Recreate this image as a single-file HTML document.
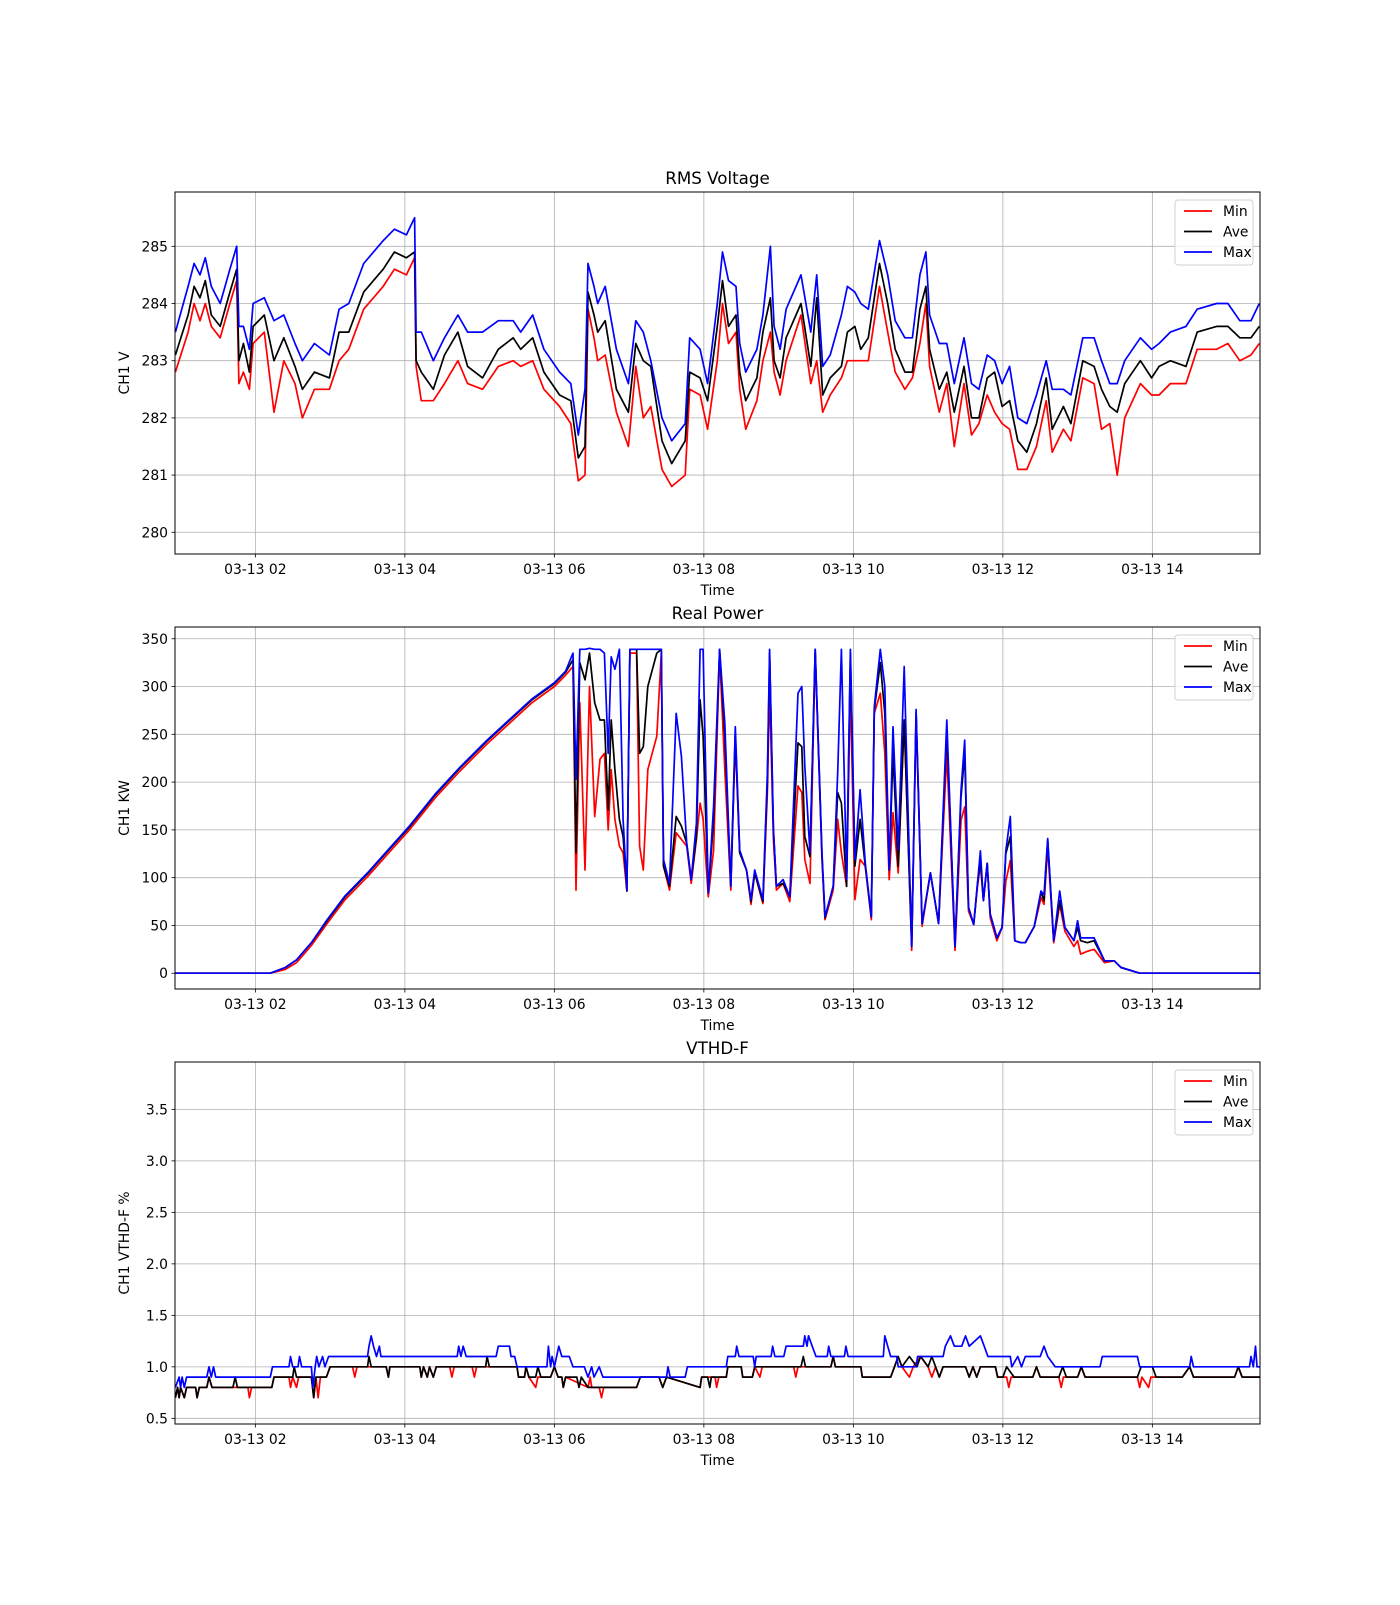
<!DOCTYPE html>
<html><head><meta charset="utf-8"><style>
body{margin:0;background:#fff}
svg text{font-family:"DejaVu Sans","Liberation Sans",sans-serif;fill:#000}
</style></head><body>
<svg id="fig" xmlns="http://www.w3.org/2000/svg" width="1400" height="1600" viewBox="0 0 1400 1600"></svg>
<script>
// ---------- shared axis data ----------
const xTickHours = [2,4,6,8,10,12,14];
const xTickLabels = ["03-13 02","03-13 04","03-13 06","03-13 08","03-13 10","03-13 12","03-13 14"];
const xDomain = [0.925, 15.44];

// ---------- RMS Voltage ----------
const voltT = [0.93,1.1,1.18,1.26,1.33,1.41,1.53,1.66,1.75,1.78,1.84,1.92,1.97,2.12,2.25,2.38,2.53,2.63,2.79,2.99,3.12,3.25,3.45,3.71,3.86,4.02,4.13,4.15,4.22,4.38,4.53,4.71,4.84,5.04,5.25,5.45,5.55,5.71,5.86,6.07,6.22,6.32,6.41,6.45,6.53,6.58,6.68,6.83,6.99,7.09,7.19,7.29,7.44,7.57,7.75,7.81,7.95,8.05,8.18,8.25,8.33,8.43,8.48,8.56,8.71,8.79,8.89,8.94,9.02,9.1,9.3,9.43,9.51,9.59,9.69,9.84,9.92,10.02,10.1,10.2,10.35,10.46,10.56,10.69,10.79,10.89,10.97,11.02,11.15,11.25,11.35,11.48,11.58,11.68,11.79,11.89,11.99,12.09,12.2,12.32,12.45,12.58,12.66,12.81,12.91,13.07,13.22,13.32,13.43,13.53,13.63,13.84,13.99,14.09,14.24,14.45,14.6,14.86,15.01,15.17,15.32,15.43];
const voltAve = [283.1,283.8,284.3,284.1,284.4,283.8,283.6,284.2,284.6,283.0,283.3,282.8,283.6,283.8,283.0,283.4,282.9,282.5,282.8,282.7,283.5,283.5,284.2,284.6,284.9,284.8,284.9,283.0,282.8,282.5,283.1,283.5,282.9,282.7,283.2,283.4,283.2,283.4,282.8,282.4,282.3,281.3,281.5,284.2,283.8,283.5,283.7,282.5,282.1,283.3,283.0,282.9,281.6,281.2,281.6,282.8,282.7,282.3,283.6,284.4,283.6,283.8,282.8,282.3,282.7,283.5,284.1,283.0,282.7,283.4,284.0,282.9,284.1,282.4,282.7,282.9,283.5,283.6,283.2,283.4,284.7,284.0,283.2,282.8,282.8,283.9,284.3,283.2,282.5,282.8,282.1,282.9,282.0,282.0,282.7,282.8,282.2,282.3,281.6,281.4,281.9,282.7,281.8,282.2,281.9,283.0,282.9,282.5,282.2,282.1,282.6,283.0,282.7,282.9,283.0,282.9,283.5,283.6,283.6,283.4,283.4,283.6];
const voltMax = [283.5,284.3,284.7,284.5,284.8,284.3,284.0,284.6,285.0,283.6,283.6,283.2,284.0,284.1,283.7,283.8,283.3,283.0,283.3,283.1,283.9,284.0,284.7,285.1,285.3,285.2,285.5,283.5,283.5,283.0,283.4,283.8,283.5,283.5,283.7,283.7,283.5,283.8,283.2,282.8,282.6,281.7,282.5,284.7,284.3,284.0,284.3,283.2,282.6,283.7,283.5,283.0,282.0,281.6,281.9,283.4,283.2,282.6,284.0,284.9,284.4,284.3,283.3,282.8,283.2,283.8,285.0,283.6,283.2,283.9,284.5,283.5,284.5,282.9,283.1,283.8,284.3,284.2,284.0,283.9,285.1,284.5,283.7,283.4,283.4,284.5,284.9,283.8,283.3,283.3,282.6,283.4,282.6,282.5,283.1,283.0,282.6,282.9,282.0,281.9,282.4,283.0,282.5,282.5,282.4,283.4,283.4,283.0,282.6,282.6,283.0,283.4,283.2,283.3,283.5,283.6,283.9,284.0,284.0,283.7,283.7,284.0];
const voltMin = [282.8,283.5,284.0,283.7,284.0,283.6,283.4,284.0,284.4,282.6,282.8,282.5,283.3,283.5,282.1,283.0,282.6,282.0,282.5,282.5,283.0,283.2,283.9,284.3,284.6,284.5,284.8,282.9,282.3,282.3,282.6,283.0,282.6,282.5,282.9,283.0,282.9,283.0,282.5,282.2,281.9,280.9,281.0,283.9,283.4,283.0,283.1,282.1,281.5,282.9,282.0,282.2,281.1,280.8,281.0,282.5,282.4,281.8,283.0,284.0,283.3,283.5,282.5,281.8,282.3,283.0,283.5,282.8,282.4,283.0,283.8,282.6,283.0,282.1,282.4,282.7,283.0,283.0,283.0,283.0,284.3,283.5,282.8,282.5,282.7,283.3,284.0,282.9,282.1,282.6,281.5,282.6,281.7,281.9,282.4,282.1,281.9,281.8,281.1,281.1,281.5,282.3,281.4,281.8,281.6,282.7,282.6,281.8,281.9,281.0,282.0,282.6,282.4,282.4,282.6,282.6,283.2,283.2,283.3,283.0,283.1,283.3];
const voltTicks = [280,281,282,283,284,285];

// ---------- Real Power ----------
const powT = [0.93,2.2,2.4,2.55,2.75,2.96,3.2,3.5,3.75,4.05,4.4,4.73,5.1,5.42,5.7,6.0,6.15,6.25,6.29,6.34,6.41,6.47,6.54,6.61,6.67,6.72,6.76,6.81,6.87,6.92,6.97,7.01,7.10,7.14,7.19,7.25,7.37,7.43,7.46,7.54,7.63,7.70,7.77,7.83,7.90,7.95,7.99,8.06,8.13,8.21,8.28,8.36,8.42,8.48,8.57,8.63,8.68,8.79,8.85,8.88,8.93,8.97,9.06,9.15,9.26,9.31,9.35,9.42,9.49,9.58,9.62,9.73,9.79,9.84,9.91,9.96,10.02,10.09,10.16,10.24,10.28,10.36,10.42,10.48,10.53,10.60,10.68,10.78,10.84,10.92,11.03,11.14,11.25,11.36,11.44,11.49,11.54,11.61,11.66,11.70,11.74,11.79,11.83,11.92,11.99,12.04,12.10,12.16,12.24,12.30,12.42,12.51,12.55,12.60,12.68,12.76,12.83,12.95,13.0,13.04,13.13,13.22,13.36,13.49,13.58,13.83,15.44];
const powAve = [0,0,6,14,32,55,80,104,126,152,186,214,243,266,286,303,315,328,126,325,307,335,283,265,265,171,265,213,161,143,86,339,339,230,237,300,335,339,112,91,164,154,136,98,143,286,248,84,161,339,248,91,251,126,108,75,105,75,200,335,150,91,94,80,241,237,143,122,339,122,58,91,189,178,91,335,112,161,112,59,276,325,272,108,230,112,265,28,272,52,105,52,255,28,184,230,69,51,93,118,76,115,62,37,48,125,143,34,32,32,49,85,76,139,34,76,48,34,48,34,32,34,13,13,6,0,0];
const powMax = [0,0,6,14,32,56,81,105,127,153,187,215,244,267,287,304,316,335,203,339,339,340,339,339,335,230,331,318,339,161,87,339,339,339,339,339,339,339,119,94,272,227,136,98,157,339,339,84,175,339,262,91,258,129,108,77,108,77,210,339,152,91,98,80,293,300,217,126,339,126,59,91,210,339,98,339,119,192,115,59,279,339,300,108,258,129,321,28,276,52,105,52,265,28,191,244,69,51,93,128,76,115,62,37,48,128,164,34,32,32,49,86,82,141,34,86,48,34,55,37,37,37,13,13,6,0,0];
const powMin = [0,0,4,11,29,52,77,101,123,149,183,211,240,263,283,300,312,321,87,283,108,300,164,224,230,150,213,161,133,126,86,335,335,133,108,213,248,335,112,87,147,140,133,94,140,178,161,80,129,335,213,87,245,126,108,72,105,73,190,300,140,87,94,75,196,189,119,94,335,119,56,87,161,126,91,300,77,119,112,56,272,293,230,98,168,105,265,24,269,49,105,52,230,24,160,174,65,51,90,114,76,115,58,34,48,96,118,34,32,32,49,79,72,132,32,72,44,28,34,20,23,25,11,13,6,0,0];
const powTicks = [0,50,100,150,200,250,300,350];

// ---------- VTHD-F ----------
const thdMaxT = [0.93,0.98,1.0,1.02,1.05,1.08,1.35,1.38,1.41,1.44,1.47,2.2,2.23,2.45,2.47,2.5,2.57,2.59,2.62,2.75,2.77,2.8,2.82,2.85,2.9,2.93,2.98,3.5,3.52,3.55,3.58,3.62,3.66,3.68,4.7,4.72,4.75,4.78,4.82,5.22,5.25,5.4,5.42,5.47,5.5,5.9,5.92,5.95,5.97,6.0,6.06,6.1,6.2,6.25,6.4,6.45,6.5,6.53,6.6,6.65,7.5,7.52,7.55,7.75,7.78,8.3,8.32,8.42,8.44,8.47,8.66,8.68,8.7,8.9,8.92,8.95,9.07,9.1,9.33,9.35,9.38,9.4,9.45,9.5,9.65,9.67,9.7,9.88,9.9,9.93,10.4,10.42,10.46,10.5,10.58,10.6,10.84,10.86,11.2,11.23,11.3,11.35,11.45,11.5,11.55,11.7,11.75,11.8,12.1,12.12,12.2,12.25,12.3,12.5,12.55,12.6,12.7,13.3,13.33,13.8,13.83,14.5,14.52,14.55,15.3,15.32,15.35,15.38,15.4,15.44];
const thdMaxV = [0.8,0.9,0.8,0.9,0.8,0.9,0.9,1.0,0.9,1.0,0.9,0.9,1.0,1.0,1.1,1.0,1.0,1.1,1.0,1.0,0.8,1.0,1.1,1.0,1.1,1.0,1.1,1.1,1.2,1.3,1.2,1.1,1.2,1.1,1.1,1.2,1.1,1.2,1.1,1.1,1.2,1.2,1.1,1.1,1.0,1.0,1.2,1.0,1.1,1.0,1.2,1.1,1.1,1.0,1.0,0.9,1.0,0.9,1.0,0.9,0.9,1.0,0.9,0.9,1.0,1.0,1.1,1.1,1.2,1.1,1.1,1.0,1.1,1.1,1.2,1.1,1.1,1.2,1.2,1.3,1.2,1.3,1.2,1.1,1.1,1.2,1.1,1.1,1.2,1.1,1.1,1.3,1.2,1.1,1.1,1.0,1.0,1.1,1.1,1.2,1.3,1.2,1.2,1.3,1.2,1.3,1.2,1.1,1.1,1.0,1.1,1.0,1.1,1.1,1.2,1.1,1.0,1.0,1.1,1.1,1.0,1.0,1.1,1.0,1.0,1.1,1.0,1.2,1.0,1.0];
const thdAveT = [0.93,0.96,0.98,1.0,1.05,1.08,1.2,1.22,1.25,1.35,1.38,1.42,1.7,1.73,1.76,2.22,2.25,2.5,2.52,2.55,2.75,2.78,2.81,2.95,3.0,3.5,3.52,3.55,3.75,3.78,3.8,4.2,4.22,4.25,4.3,4.33,4.38,4.42,5.08,5.1,5.13,5.5,5.52,5.6,5.62,5.66,5.75,5.78,5.82,5.95,6.0,6.05,6.1,6.12,6.15,6.3,6.33,6.36,6.45,7.1,7.15,7.4,7.45,7.5,7.95,7.97,8.05,8.08,8.1,8.3,8.32,8.5,8.52,8.65,8.68,9.3,9.33,9.36,9.7,9.73,9.76,10.1,10.12,10.5,10.55,10.6,10.65,10.75,10.85,10.9,11.0,11.05,11.1,11.15,11.2,11.5,11.55,11.6,11.65,11.7,11.9,11.93,12.0,12.05,12.15,12.4,12.45,12.5,12.75,12.8,12.85,13.0,13.05,13.1,13.8,13.85,14.0,14.05,14.4,14.5,14.55,15.1,15.15,15.2,15.44];
const thdAveV = [0.7,0.8,0.7,0.8,0.7,0.8,0.8,0.7,0.8,0.8,0.9,0.8,0.8,0.9,0.8,0.8,0.9,0.9,1.0,0.9,0.9,0.7,0.9,0.9,1.0,1.0,1.1,1.0,1.0,0.9,1.0,1.0,0.9,1.0,0.9,1.0,0.9,1.0,1.0,1.1,1.0,1.0,0.9,0.9,1.0,0.9,0.9,1.0,0.9,0.9,1.0,0.9,0.9,0.8,0.9,0.9,0.8,0.9,0.8,0.8,0.9,0.9,0.8,0.9,0.8,0.9,0.9,0.8,0.9,0.9,1.0,1.0,0.9,0.9,1.0,1.0,1.1,1.0,1.0,1.1,1.0,1.0,0.9,0.9,1.0,1.1,1.0,1.1,1.0,1.1,1.0,1.1,1.0,0.9,1.0,1.0,0.9,1.0,0.9,1.0,1.0,0.9,0.9,1.0,0.9,0.9,1.0,0.9,0.9,1.0,0.9,0.9,1.0,0.9,0.9,1.0,1.0,0.9,0.9,1.0,0.9,0.9,1.0,0.9,0.9];
const thdMinT = [0.93,0.96,0.98,1.0,1.05,1.08,1.2,1.22,1.25,1.35,1.38,1.42,1.9,1.92,1.95,2.22,2.25,2.45,2.47,2.5,2.55,2.58,2.75,2.78,2.81,2.84,2.87,2.95,3.0,3.3,3.33,3.36,3.75,3.78,3.8,4.2,4.22,4.25,4.3,4.33,4.38,4.42,4.6,4.63,4.66,4.9,4.93,4.96,5.5,5.52,5.6,5.62,5.66,5.75,5.78,5.95,6.0,6.05,6.1,6.12,6.15,6.45,6.48,6.5,6.6,6.63,6.66,7.1,7.15,7.4,7.45,7.5,7.95,7.97,8.15,8.17,8.2,8.3,8.32,8.5,8.52,8.65,8.68,8.75,8.78,9.2,9.23,9.26,9.7,9.73,9.76,10.1,10.12,10.5,10.55,10.6,10.65,10.75,10.8,10.9,11.0,11.05,11.1,11.15,11.2,11.5,11.55,11.6,11.65,11.7,11.9,11.93,12.05,12.08,12.11,12.4,12.45,12.5,12.75,12.78,12.81,13.0,13.05,13.1,13.8,13.83,13.86,13.95,13.98,14.4,14.5,14.55,15.1,15.15,15.2,15.44];
const thdMinV = [0.7,0.8,0.7,0.8,0.7,0.8,0.8,0.7,0.8,0.8,0.9,0.8,0.8,0.7,0.8,0.8,0.9,0.9,0.8,0.9,0.8,0.9,0.9,0.7,0.9,0.7,0.9,0.9,1.0,1.0,0.9,1.0,1.0,0.9,1.0,1.0,0.9,1.0,0.9,1.0,0.9,1.0,1.0,0.9,1.0,1.0,0.9,1.0,1.0,0.9,0.9,1.0,0.9,0.8,0.9,0.9,1.0,0.9,0.9,0.8,0.9,0.8,0.9,0.8,0.8,0.7,0.8,0.8,0.9,0.9,0.8,0.9,0.8,0.9,0.9,0.8,0.9,0.9,1.0,1.0,0.9,0.9,1.0,0.9,1.0,1.0,0.9,1.0,1.0,1.1,1.0,1.0,0.9,0.9,1.0,1.1,1.0,0.9,1.0,1.1,1.0,0.9,1.0,0.9,1.0,1.0,0.9,1.0,0.9,1.0,1.0,0.9,0.9,0.8,0.9,0.9,1.0,0.9,0.9,0.8,0.9,0.9,1.0,0.9,0.9,0.8,0.9,0.8,0.9,0.9,1.0,0.9,0.9,1.0,0.9,0.9];
const thdTicks = [0.5,1.0,1.5,2.0,2.5,3.0,3.5];
const thdTickLabels = ["0.5","1.0","1.5","2.0","2.5","3.0","3.5"];

// ---------- drawing ----------
const NS = "http://www.w3.org/2000/svg";
const svg = document.getElementById("fig");
const L = 175, R = 1260, H = 362;
function mk(tag, attrs, parent){
  const e = document.createElementNS(NS, tag);
  for (const k in attrs) e.setAttribute(k, attrs[k]);
  (parent||svg).appendChild(e);
  return e;
}
function xScale(h){ return L + (h - xDomain[0]) / (xDomain[1] - xDomain[0]) * (R - L); }

function panel(name, top, ymin, ymax, yTicks, yLabels, title, ylabel, series){
  const B = top + H;
  const yScale = v => B - (v - ymin) / (ymax - ymin) * H;
  const g = mk("g", {});
  
  
  xTickHours.forEach((h, i) => {
    const x = xScale(h);
    const gl = mk("line", {x1:x, x2:x, y1:top, y2:B, stroke:"#b0b0b0", "stroke-width":0.8}, g);
    
    
    mk("line", {x1:x, x2:x, y1:B, y2:B+3.5, stroke:"#000", "stroke-width":0.8}, g);
    const t = mk("text", {x:x, y:B+20, "text-anchor":"middle", "font-size":"13.9px"}, g);
    t.textContent = xTickLabels[i];
    
    
  });
  yTicks.forEach((v, i) => {
    const y = yScale(v);
    const gl = mk("line", {x1:L, x2:R, y1:y, y2:y, stroke:"#b0b0b0", "stroke-width":0.8}, g);
    
    
    mk("line", {x1:L-3.5, x2:L, y1:y, y2:y, stroke:"#000", "stroke-width":0.8}, g);
    const t = mk("text", {x:L-7, y:y+5, "text-anchor":"end", "font-size":"13.9px"}, g);
    t.textContent = yLabels[i];
    
    
  });
  const clipId = "clip-" + name;
  const cp = mk("clipPath", {id:clipId}, g);
  mk("rect", {x:L, y:top, width:R-L, height:H}, cp);
  series.forEach(s => {
    let d = "";
    s.t.forEach((h, i) => { d += (i ? "L" : "M") + xScale(h).toFixed(1) + "," + yScale(s.v[i]).toFixed(1); });
    const p = mk("path", {d:d, fill:"none", stroke:s.color, "stroke-width":1.7, "stroke-linejoin":"round", "clip-path":"url(#"+clipId+")"}, g);
    
    
  });
  const fr = mk("rect", {x:L, y:top, width:R-L, height:H, fill:"none", stroke:"#000", "stroke-width":1}, g);
  
  
  const tt = mk("text", {x:(L+R)/2, y:top-8, "text-anchor":"middle", "font-size":"16.7px"}, g);
  tt.textContent = title;
  
  
  const xl = mk("text", {x:(L+R)/2, y:B+41, "text-anchor":"middle", "font-size":"13.9px"}, g);
  xl.textContent = "Time";
  
  
  const yl = mk("text", {x:0, y:0, "text-anchor":"middle", "font-size":"13.9px", transform:"translate(129,"+(top+H/2)+") rotate(-90)"}, g);
  yl.textContent = ylabel;
  
  
  const lg = mk("g", {}, g);
  
  
  mk("rect", {x:1175, y:top+8, width:78, height:65, rx:3, fill:"#fff", "fill-opacity":0.8, stroke:"#d0d0d0", "stroke-width":1}, lg);
  series.forEach((s, i) => {
    const y = top + 19 + i*20.5;
    const ln = mk("line", {x1:1184, x2:1212, y1:y, y2:y, stroke:s.color, "stroke-width":1.7}, lg);
    
    
    const lt = mk("text", {x:1223, y:y+5, "font-size":"13.9px"}, lg);
    lt.textContent = s.label;
    
    
  });
}

panel("voltage", 192, 279.62, 285.95, voltTicks, voltTicks.map(String), "RMS Voltage", "CH1 V", [
  {t:voltT, v:voltMin, color:"#ff0000", label:"Min"},
  {t:voltT, v:voltAve, color:"#000000", label:"Ave"},
  {t:voltT, v:voltMax, color:"#0000ff", label:"Max"}]);
panel("power", 627, -16.5, 362.3, powTicks, powTicks.map(String), "Real Power", "CH1 KW", [
  {t:powT, v:powMin, color:"#ff0000", label:"Min"},
  {t:powT, v:powAve, color:"#000000", label:"Ave"},
  {t:powT, v:powMax, color:"#0000ff", label:"Max"}]);
panel("vthd", 1062, 0.445, 3.96, thdTicks, thdTickLabels, "VTHD-F", "CH1 VTHD-F %", [
  {t:thdMinT, v:thdMinV, color:"#ff0000", label:"Min"},
  {t:thdAveT, v:thdAveV, color:"#000000", label:"Ave"},
  {t:thdMaxT, v:thdMaxV, color:"#0000ff", label:"Max"}]);
</script>
</body></html>
